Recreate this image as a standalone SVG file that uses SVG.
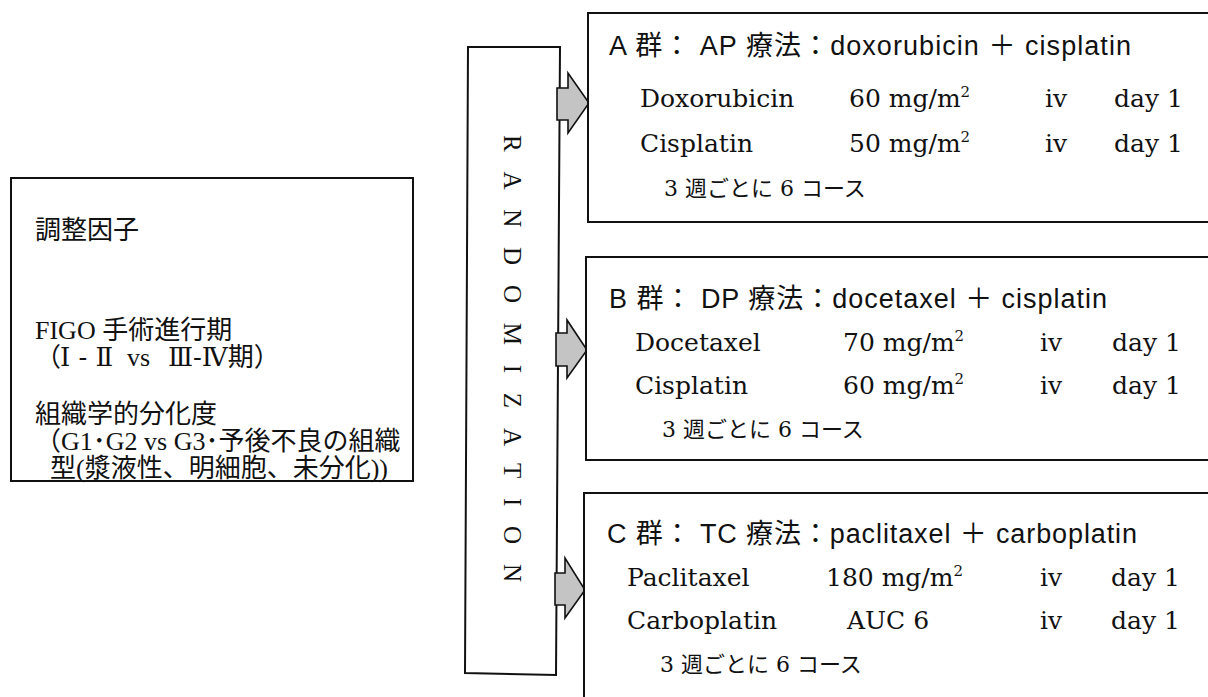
<svg xmlns="http://www.w3.org/2000/svg" width="1208" height="697" viewBox="0 0 1208 697">
<style>
.box{fill:#fff;stroke:#111;stroke-width:2}
.arr{fill:#c4c4c4;stroke:#111;stroke-width:1.6;stroke-linejoin:miter}
.jp{font-family:"Liberation Serif","Noto Sans CJK JP",serif;font-size:26px;fill:#111}
.rn{font-family:"DejaVu Serif","Noto Sans CJK JP",serif}
.hd{font-family:"Liberation Sans","Noto Sans CJK JP",sans-serif;font-size:27px;fill:#111}
.sr{font-family:"DejaVu Serif","Noto Sans CJK JP",serif;font-size:25px;fill:#111}
.cr{font-family:"DejaVu Serif","Noto Sans CJK JP",serif;font-size:22px;fill:#111}
.sup{font-size:15px}
.rand{font-family:"Liberation Serif",serif;font-size:25px;fill:#111}
</style>
<rect width="1208" height="697" fill="#fff"/>

<g id="factors">
<rect class="box" x="11" y="178" width="402" height="303"/>
<text class="jp" x="35" y="239">調整因子</text>
<text class="jp" x="35" y="339">FIGO 手術進行期</text>
<text class="jp" y="366"><tspan x="35">（</tspan><tspan class="rn" x="60">Ⅰ - Ⅱ</tspan><tspan x="127">vs</tspan><tspan class="rn" x="168">Ⅲ-Ⅳ</tspan><tspan>期）</tspan></text>
<text class="jp" x="35" y="423">組織学的分化度</text>
<text class="jp" x="35" y="450">（G1･G2 vs G3･予後不良の組織</text>
<text class="jp" x="50" y="477">型(漿液性、明細胞、未分化))</text>
</g>

<g id="randomization">
<polygon class="box" points="468,47 560,47 556,675 465,673"/>
<text class="rand" transform="translate(504,135) rotate(90)" textLength="447" lengthAdjust="spacing">RANDOMIZATION</text>
</g>

<g id="connectors">
<polygon class="arr" points="557,88 568,88 568,73 589,103 568,133 568,120 557,120"/>
<polygon class="arr" points="556,333 567,333 567,320 587,350 567,378 567,366 556,366"/>
<polygon class="arr" points="555,573 565,573 565,558 585,590 565,618 565,605 555,605"/>
</g>

<g id="groupA">
<rect class="box" x="588" y="13" width="640" height="209"/>
<text class="hd" x="609" y="55" textLength="522" lengthAdjust="spacing">A 群：  AP 療法：doxorubicin  ＋  cisplatin</text>
<text class="sr" x="640" y="107">Doxorubicin</text>
<text class="sr" x="849" y="107">60 mg/m<tspan class="sup" dy="-10">2</tspan></text>
<text class="sr" x="1045" y="107">iv</text>
<text class="sr" x="1114" y="107">day 1</text>
<text class="sr" x="640" y="152">Cisplatin</text>
<text class="sr" x="849" y="152">50 mg/m<tspan class="sup" dy="-10">2</tspan></text>
<text class="sr" x="1045" y="152">iv</text>
<text class="sr" x="1114" y="152">day 1</text>
<text class="cr" x="664" y="196">3 週ごとに 6 コース</text>
</g>

<g id="groupB">
<rect class="box" x="586" y="257" width="640" height="203"/>
<text class="hd" x="609" y="308" textLength="498" lengthAdjust="spacing">B 群：  DP 療法：docetaxel  ＋  cisplatin</text>
<text class="sr" x="635" y="351">Docetaxel</text>
<text class="sr" x="843" y="351">70 mg/m<tspan class="sup" dy="-10">2</tspan></text>
<text class="sr" x="1040" y="351">iv</text>
<text class="sr" x="1112" y="351">day 1</text>
<text class="sr" x="635" y="394">Cisplatin</text>
<text class="sr" x="843" y="394">60 mg/m<tspan class="sup" dy="-10">2</tspan></text>
<text class="sr" x="1040" y="394">iv</text>
<text class="sr" x="1112" y="394">day 1</text>
<text class="cr" x="662" y="437">3 週ごとに 6 コース</text>
</g>

<g id="groupC">
<rect class="box" x="584" y="493" width="640" height="240"/>
<text class="hd" x="607" y="543" textLength="530" lengthAdjust="spacing">C 群：  TC 療法：paclitaxel  ＋  carboplatin</text>
<text class="sr" x="627" y="586">Paclitaxel</text>
<text class="sr" x="826" y="586">180 mg/m<tspan class="sup" dy="-10">2</tspan></text>
<text class="sr" x="1040" y="586">iv</text>
<text class="sr" x="1111" y="586">day 1</text>
<text class="sr" x="627" y="629">Carboplatin</text>
<text class="sr" x="847" y="629">AUC 6</text>
<text class="sr" x="1040" y="629">iv</text>
<text class="sr" x="1111" y="629">day 1</text>
<text class="cr" x="660" y="672">3 週ごとに 6 コース</text>
</g>
</svg>
